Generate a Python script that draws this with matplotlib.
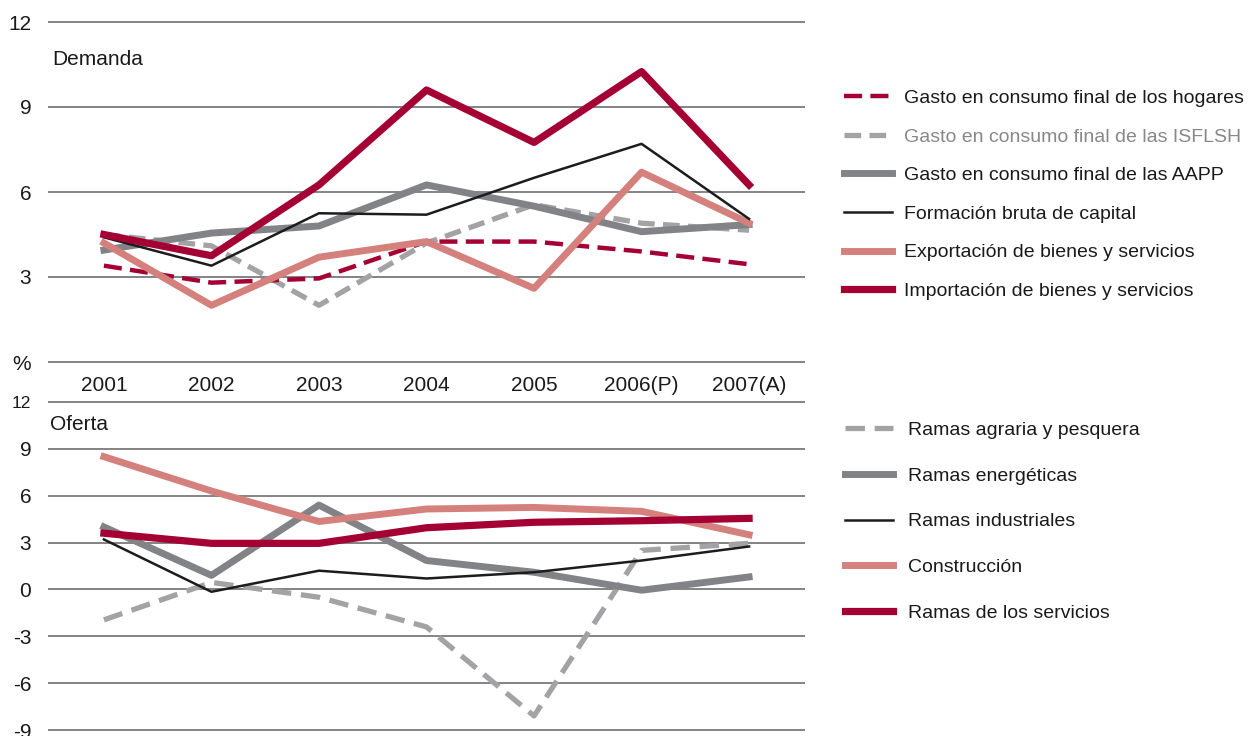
import matplotlib
matplotlib.use("Agg")
import matplotlib.pyplot as plt

plt.rcParams['font.family'] = ['Liberation Sans', 'DejaVu Sans']
plt.rcParams['lines.scale_dashes'] = False

# === Data ===
years = ["2001", "2002", "2003", "2004", "2005", "2006(P)", "2007(A)"]

hogares = [3.4, 2.8, 2.95, 4.25, 4.25, 3.9, 3.45]
isflsh = [4.5, 4.1, 2.0, 4.2, 5.55, 4.9, 4.65]
aapp = [3.95, 4.55, 4.8, 6.25, 5.5, 4.6, 4.85]
fbc = [4.4, 3.4, 5.25, 5.2, 6.5, 7.7, 5.05]
exportacion = [4.2, 2.0, 3.7, 4.25, 2.6, 6.7, 4.9]
importacion = [4.5, 3.75, 6.25, 9.6, 7.75, 10.25, 6.25]

agraria = [-1.95, 0.45, -0.5, -2.4, -8.1, 2.5, 2.95]
energeticas = [4.0, 0.9, 5.4, 1.85, 1.1, -0.05, 0.8]
industriales = [3.2, -0.15, 1.2, 0.7, 1.1, 1.85, 2.75]
construccion = [8.5, 6.3, 4.35, 5.15, 5.25, 5.0, 3.5]
servicios = [3.6, 2.95, 2.95, 3.95, 4.3, 4.4, 4.55]

top_ticks = [0, 3, 6, 9, 12]
top_ticklabels = ["%", "3", "6", "9", "12"]
bot_ticks = [-9, -6, -3, 0, 3, 6, 9, 12]
bot_ticklabels = ["-9", "-6", "-3", "0", "3", "6", "9", "12"]

# === Styles ===
RED = "#a50034"
PINK = "#d4817d"
GREY = "#828387"
LIGHT = "#a3a3a5"
BLACK = "#1c1c1c"
GRID = "#7a7a7a"
TXT = "#1a1a1a"

W, H = 1251, 736
fig = plt.figure(figsize=(W / 100, H / 100), dpi=100)


def px_axes(x0, x1, ytop, ybot):
    return fig.add_axes([x0 / W, 1 - ybot / H, (x1 - x0) / W, (ybot - ytop) / H])


x = list(range(len(years)))

ax1 = px_axes(48, 805, 20, 364)
ax2 = px_axes(48, 805, 400, 732)

for ax in (ax1, ax2):
    for s in ax.spines.values():
        s.set_visible(False)
    ax.set_xlim(-0.52, 6.52)
    ax.tick_params(length=0, labelsize=15, colors=TXT)
    ax.yaxis.grid(True, color=GRID, lw=1.3)
    ax.set_axisbelow(True)

# --- Demanda ---
ax1.set_ylim(-12 * 2 / 340, 12 + 12 * 2 / 340)
ax1.set_yticks(top_ticks, top_ticklabels)
ax1.set_xticks(x, years)
ax1.tick_params(axis="x", pad=8.5)
ax1.tick_params(axis="y", pad=12)

ax1.plot(x, isflsh, color=LIGHT, lw=3.8, dashes=(12, 6), label="Gasto en consumo final de las ISFLSH")
ax1.plot(x, aapp, color=GREY, lw=5, label="Gasto en consumo final de las AAPP")
ax1.plot(x, hogares, color=RED, lw=3.2, dashes=(13, 6), label="Gasto en consumo final de los hogares")
ax1.plot(x, exportacion, color=PINK, lw=5, label="Exportación de bienes y servicios")
ax1.plot(x, fbc, color=BLACK, lw=1.8, label="Formación bruta de capital")
ax1.plot(x, importacion, color=RED, lw=5.2, label="Importación de bienes y servicios")
ax1.text(0.005, 0.87, "Demanda", transform=ax1.transAxes, fontsize=15, color=TXT)

h, l = ax1.get_legend_handles_labels()
order = [2, 0, 1, 4, 3, 5]
leg1 = ax1.legend([h[i] for i in order], [l[i] for i in order], loc="upper left",
                  bbox_to_anchor=(1.041, 0.821), frameon=False, fontsize=14,
                  handlelength=2.5, handletextpad=0.6, labelspacing=1.08,
                  borderaxespad=0, labelcolor=TXT)
for t in leg1.get_texts():
    if "ISFLSH" in t.get_text():
        t.set_color("#888888")

# --- Oferta ---
ax2.set_ylim(-9 - 21 * 2 / 328, 12 + 21 * 2 / 328)
ax2.set_yticks(bot_ticks, bot_ticklabels)
ax2.set_xticks([])
ax2.tick_params(axis="y", pad=12)
ax2.get_yticklabels()[-1].set_fontsize(12.5)

ax2.plot(x, agraria, color=LIGHT, lw=3.8, dashes=(14, 7), label="Ramas agraria y pesquera")
ax2.plot(x, energeticas, color=GREY, lw=5, label="Ramas energéticas")
ax2.plot(x, construccion, color=PINK, lw=5, label="Construcción")
ax2.plot(x, industriales, color=BLACK, lw=1.8, label="Ramas industriales")
ax2.plot(x, servicios, color=RED, lw=5.2, label="Ramas de los servicios")
ax2.text(0.003, 0.911, "Oferta", transform=ax2.transAxes, fontsize=15, color=TXT)

h, l = ax2.get_legend_handles_labels()
order = [0, 1, 3, 2, 4]
ax2.legend([h[i] for i in order], [l[i] for i in order], loc="upper left",
           bbox_to_anchor=(1.042, 0.9595), frameon=False, fontsize=14,
           handlelength=2.5, handletextpad=0.78, labelspacing=1.45,
           borderaxespad=0, labelcolor=TXT)

fig.savefig("out.png", dpi=100)
